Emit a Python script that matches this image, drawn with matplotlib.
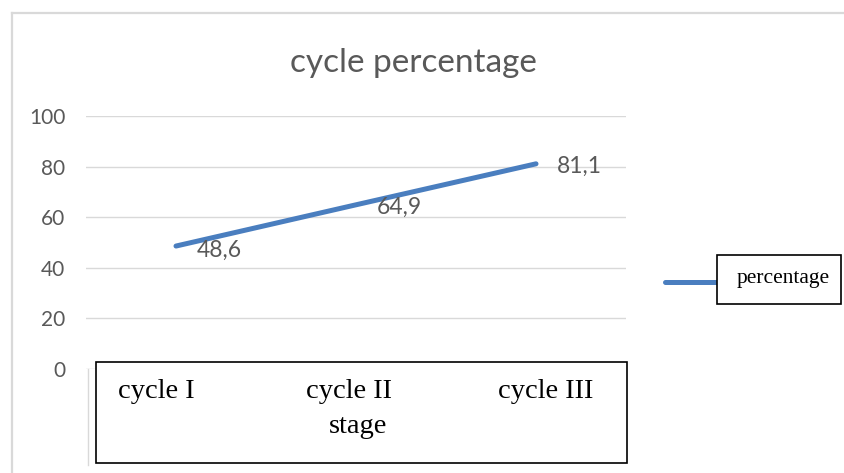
import matplotlib
matplotlib.use("Agg")
import matplotlib.pyplot as plt
from matplotlib.patches import Rectangle
from matplotlib.lines import Line2D

categories = ["cycle I", "cycle II", "cycle III"]
values = [48.6, 64.9, 81.1]
value_labels = ["48,6", "64,9", "81,1"]
yticks = [0, 20, 40, 60, 80, 100]
title = "cycle percentage"
series_name = "percentage"
axis_title = "stage"

W, H = 844, 473
fig = plt.figure(figsize=(W / 100, H / 100), dpi=100)

def fx(px):
    return px / W

def fy(py):
    return 1 - py / H

grid_c = "#d9d9d9"
text_c = "#595959"
line_c = "#4a7ebf"

# outer chart border
fig.add_artist(Line2D([fx(12), fx(12)], [fy(13), fy(473)], color=grid_c, lw=1.6, transform=fig.transFigure))
fig.add_artist(Line2D([fx(12), fx(844)], [fy(13), fy(13)], color=grid_c, lw=1.6, transform=fig.transFigure))

ax = fig.add_axes([fx(86), fy(369), fx(626) - fx(86), fy(116) - fy(369)])
x = list(range(len(categories)))
ax.set_xlim(-0.5, len(categories) - 0.5)
ax.set_ylim(0, 100)
ax.set_yticks(yticks)
ax.set_yticklabels([str(t) for t in yticks], fontsize=15, color=text_c, family="Lato")
ax.tick_params(axis="y", length=0, pad=15)
ax.set_xticks([])
for s in ax.spines.values():
    s.set_visible(False)
ax.grid(axis="y", color=grid_c, lw=1)
ax.set_axisbelow(True)

ax.plot(x, values, color=line_c, lw=3.6, solid_capstyle="round", zorder=3)
for xi, v, lab in zip(x, values, value_labels):
    ax.annotate(lab, (xi, v), xytext=(15, -3 if xi == 0 else -1.5), textcoords="offset points",
                ha="left", va="center", fontsize=16.5, color=text_c, family="Lato", zorder=4)

fig.text(fx(413), fy(63), title, ha="center", va="center", fontsize=24, color=text_c, family="Lato")

# faint axis area line
fig.add_artist(Line2D([fx(88), fx(88)], [fy(369), fy(465)], color=grid_c, lw=1, transform=fig.transFigure))

# category text box
fig.add_artist(Rectangle((fx(96), fy(463)), fx(627) - fx(96), fy(362) - fy(463),
                         facecolor="white", edgecolor="black", lw=1.2, transform=fig.transFigure, zorder=5))
cat_x = [156, 349, 546]
for cx, c in zip(cat_x, categories):
    fig.text(fx(cx), fy(391), c, ha="center", va="center", fontsize=20.5, family="Liberation Serif", color="black", zorder=6)
fig.text(fx(358), fy(426), axis_title, ha="center", va="center", fontsize=20.5, family="Liberation Serif", color="black", zorder=6)

# legend
fig.add_artist(Line2D([fx(665), fx(717)], [fy(282), fy(282)], color=line_c, lw=3.6, solid_capstyle="round", transform=fig.transFigure))
fig.add_artist(Rectangle((fx(717), fy(304)), fx(841) - fx(717), fy(255) - fy(304),
                         facecolor="white", edgecolor="black", lw=1.2, transform=fig.transFigure, zorder=5))
fig.text(fx(783), fy(279), series_name, ha="center", va="center", fontsize=15.5, family="Liberation Serif", color="black", zorder=6)

fig.savefig("out.png", dpi=100)
